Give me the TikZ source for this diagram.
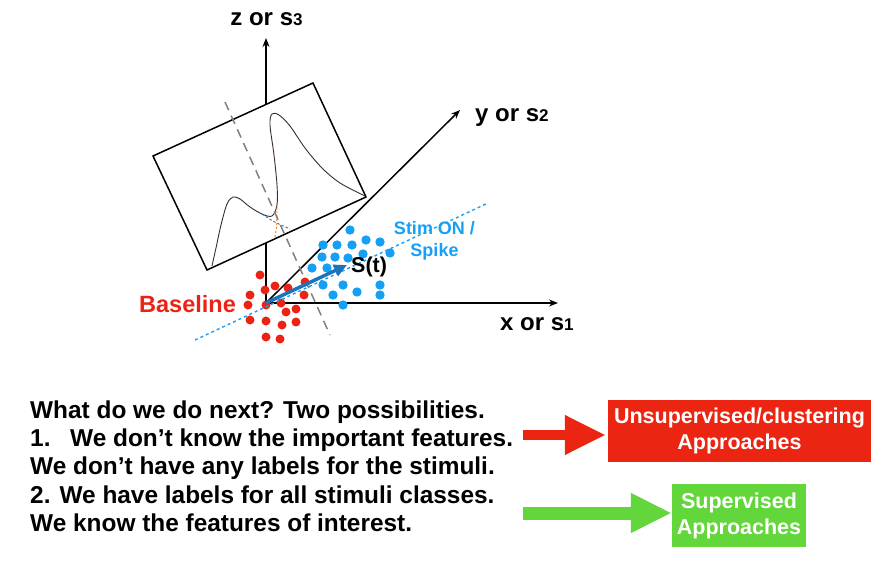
\documentclass[tikz,border=0pt]{standalone}
\usepackage{fontspec}
\setmainfont{Liberation Sans}
\usepackage{xcolor}
\usepackage{tikz}
\usetikzlibrary{positioning,arrows.meta}

\definecolor{baseRed}{RGB}{235,35,20}
\definecolor{stimBlue}{RGB}{22,160,245}
\definecolor{vecBlue}{RGB}{30,115,185}
\definecolor{boxRed}{RGB}{236,36,18}
\definecolor{boxGreen}{RGB}{98,214,58}
\definecolor{curveDark}{RGB}{60,45,40}

\begin{document}
\begin{tikzpicture}[x=1pt, y=-1pt,
    axis/.style={line width=1.5pt, -{Stealth[length=9pt,width=7pt]}},
    axlabel/.style={font=\fontsize{24}{26}\selectfont\bfseries, inner sep=0pt},
    reddot/.style={fill=baseRed},
    bluedot/.style={fill=stimBlue},
    fatarrow/.style={-{Triangle[length=41pt,width=37pt]}},
    approach/.style={text=white, align=center, inner sep=0pt,
        font=\fontsize{21.5}{26}\selectfont\bfseries}]
    \useasboundingbox (0,0) rectangle (884,567);

    % axes
    \coordinate (O) at (266,303);
    \coordinate (xtip) at (558,303);
    \coordinate (ytip) at (460,110);
    \coordinate (ztip) at (266,38);
    \draw[axis] (O) -- (xtip);
    \draw[axis] (O) -- (ytip);
    \draw[axis] (O) -- (ztip);
    \node (zlab) [axlabel, anchor=base] at (266.5,26) {z or s{\fontsize{17}{17}\selectfont 3}};
    \node (ylab) [axlabel, anchor=base west] at (475,122) {y or s{\fontsize{17}{17}\selectfont 2}};
    \node (xlab) [axlabel, anchor=base west] at (500,330) {x or s{\fontsize{17}{17}\selectfont 1}};

    % projection plane with the histogram
    \draw[line width=1.5pt, fill=white] (153,156) -- (313,83) -- (366,197) -- (207,270) -- cycle;
    \draw[curveDark, line width=0.9pt] plot[smooth, tension=0.55] coordinates {(212,266) (216,248)
        (221,225) (227,204) (233,197) (240,199) (250,207) (262,214) (272,216) (277,205) (277,185)
        (274,155) (270,125) (272,114) (279,115) (290,126) (305,148) (322,168) (340,183) (365,196)};
    \draw[stimBlue!80!black, line width=0.9pt, dash pattern=on 2.5pt off 2pt] (262,214) .. controls (274,222) .. (290,229);
    \draw[orange!90!red, line width=0.9pt, dash pattern=on 2pt off 2pt] (277,203) .. controls (277,225) .. (275,237);
    \draw[gray, line width=1.5pt, dash pattern=on 9pt off 6pt] (225,102) -- (330,335);

    % clusters
    \foreach \p in {(260,275),(275,286),(265,290),(250,295),(288,288),(304,295),(305,282),
        (248,305),(266,305),(281,303),(286,312),(296,309),(250,320),(266,321),(282,325),
        (296,322),(266,337),(280,339)}
        \fill[reddot] \p circle (4.5);
    \foreach \p in {(350,230),(323,245),(337,245),(352,245),(366,240),(380,242),(322,257),
        (335,257),(348,258),(363,254),(390,253),(312,268),(327,268),(323,285),(343,285),
        (333,295),(357,292),(380,285),(380,295),(343,305)}
        \fill[bluedot] \p circle (4.7);
    \coordinate (lineA) at (195,340);
    \coordinate (lineB) at (488,203);
    \draw[stimBlue, line width=1.4pt, dash pattern=on 3pt off 3pt] (lineA) -- (lineB);

    % state vector
    \coordinate (stip) at (347,265);
    \draw[vecBlue, line width=3.5pt, -{Triangle[length=13pt,width=12pt]}] (O) -- (stip);
    \node (slab) [anchor=base west, inner sep=0pt, font=\fontsize{21.5}{24}\selectfont\bfseries] at (351,272) {S(t)};
    \node (baseLab) [anchor=base west, inner sep=0pt, text=baseRed, font=\fontsize{23.5}{26}\selectfont\bfseries] at (139,312) {Baseline};
    \node (stimLab) [align=center, inner sep=0pt, text=stimBlue, font=\fontsize{18}{22}\selectfont\bfseries] at (434.5,241) {Stim ON /\\Spike};

    % question and answers
    \node (question) [anchor=base west, align=left, inner sep=0pt, font=\fontsize{24.4}{28.3}\selectfont\bfseries] at (30,531.5)
        {What do we do next? Two possibilities.\\
         \makebox[40pt][l]{1.}We don’t know the important features.\\
         We don’t have any labels for the stimuli.\\
         2. We have labels for all stimuli classes.\\
         We know the features of interest.};
    \node (unsup) [approach, fill=boxRed, minimum width=263pt, minimum height=62pt] at (739.5,431)
        {Unsupervised/clustering\\Approaches};
    \node (sup) [approach, fill=boxGreen, minimum width=134pt, minimum height=63pt] at (739,515.5)
        {Supervised\\Approaches};
    \coordinate (redTail) at (523,435);
    \coordinate (greenTail) at (523,513);
    \draw[fatarrow, boxRed, line width=10pt, shorten >=2pt] (redTail) -- (redTail -| unsup.west);
    \draw[fatarrow, boxGreen, line width=13pt] (greenTail) -- (greenTail -| sup.west);
\end{tikzpicture}
\end{document}
